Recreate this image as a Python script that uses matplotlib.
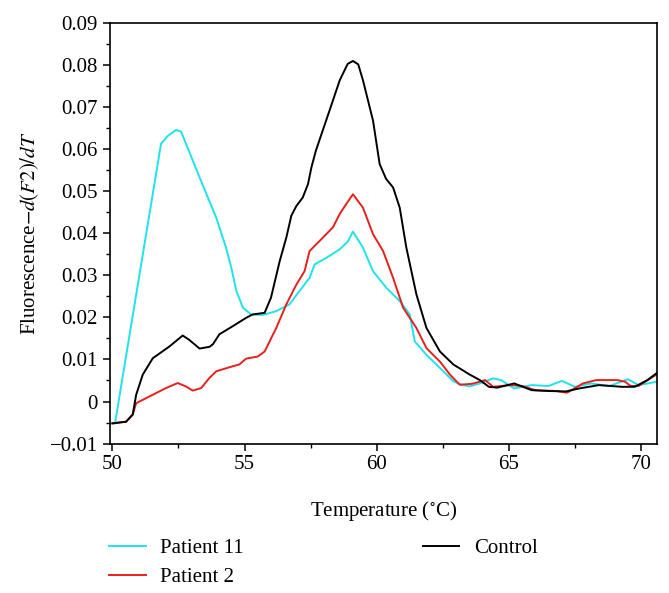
import matplotlib
matplotlib.use('Agg')
import matplotlib.pyplot as plt
from matplotlib.ticker import MultipleLocator

plt.rcParams['font.family'] = ['Liberation Serif', 'DejaVu Serif']
plt.rcParams['mathtext.fontset'] = 'stix'

# Patient 11 (cyan)
t_p11 = [50.1, 51.84, 52.1, 52.41, 52.6, 53.3, 53.93, 54.3, 54.5, 54.69,
         54.94, 55.25, 55.7, 56.2, 56.7, 57.08, 57.46, 57.65, 58.1, 58.6,
         58.9, 59.1, 59.48, 59.86, 60.37, 60.87, 61.25, 61.44, 61.88, 62.39,
         62.9, 63.2, 63.52, 63.9, 64.4, 64.7, 65.2, 65.86, 66.5, 67.0,
         67.5, 68.1, 68.8, 69.5, 69.9, 70.6]
y_p11 = [-0.0052, 0.0613, 0.0632, 0.0646, 0.0642, 0.0533, 0.0437, 0.0366, 0.0318, 0.0263,
         0.0223, 0.0207, 0.0206, 0.0215, 0.0231, 0.0263, 0.0294, 0.0326, 0.0342, 0.0362,
         0.0380, 0.0404, 0.0366, 0.0310, 0.0270, 0.0239, 0.0207, 0.0143, 0.0111, 0.0080,
         0.0048, 0.0040, 0.0036, 0.0043, 0.0055, 0.0051, 0.0031, 0.0039, 0.0037, 0.0049,
         0.0035, 0.0043, 0.0037, 0.0053, 0.0039, 0.0047]

# Patient 2 (red)
t_p2 = [50.0, 50.52, 50.77, 50.9, 51.4, 52.03, 52.47, 52.78, 53.04, 53.36,
        53.67, 53.93, 54.56, 54.8, 55.06, 55.5, 55.76, 56.2, 56.58, 56.96,
        57.27, 57.46, 57.84, 58.34, 58.6, 58.85, 59.1, 59.48, 59.86, 60.24,
        60.62, 61.0, 61.5, 61.88, 62.39, 62.77, 63.14, 63.6, 64.1, 64.4,
        65.05, 65.5, 66.0, 66.8, 67.2, 67.8, 68.3, 69.1, 69.4, 69.6,
        69.9, 70.6]
y_p2 = [-0.0052, -0.0048, -0.0031, -0.0004, 0.0012, 0.0032, 0.0044, 0.0036, 0.0026, 0.0032,
        0.0056, 0.0072, 0.0084, 0.0088, 0.0102, 0.0107, 0.0119, 0.0175, 0.0231, 0.0278,
        0.0310, 0.0358, 0.0382, 0.0414, 0.0446, 0.0470, 0.0493, 0.0461, 0.0398, 0.0358,
        0.0294, 0.0223, 0.0175, 0.0127, 0.0095, 0.0064, 0.0040, 0.0042, 0.0051, 0.0035,
        0.0039, 0.0037, 0.0027, 0.0025, 0.0021, 0.0043, 0.0051, 0.0051, 0.0047, 0.0037,
        0.0037, 0.0065]

# Control (black)
t_ctrl = [50.0, 50.52, 50.77, 50.9, 51.15, 51.53, 52.16, 52.66, 52.9, 53.3,
          53.67, 53.8, 54.05, 54.55, 55.06, 55.3, 55.76, 56.0, 56.33, 56.58,
          56.77, 56.96, 57.2, 57.4, 57.53, 57.7, 58.23, 58.6, 58.9, 59.1,
          59.3, 59.48, 59.86, 60.11, 60.35, 60.62, 60.87, 61.12, 61.5, 61.88,
          62.39, 62.9, 63.52, 63.9, 64.24, 64.56, 65.2, 65.86, 66.5, 67.16,
          67.65, 68.4, 69.27, 69.76, 70.24, 70.6]
y_ctrl = [-0.0052, -0.0048, -0.0031, 0.0016, 0.0064, 0.0103, 0.0131, 0.0157, 0.0147, 0.0126,
          0.0130, 0.0136, 0.0160, 0.0179, 0.0199, 0.0207, 0.0211, 0.0247, 0.0334, 0.0390,
          0.0442, 0.0465, 0.0485, 0.0517, 0.0557, 0.0597, 0.0695, 0.0764, 0.0803, 0.0810,
          0.0802, 0.0764, 0.0668, 0.0565, 0.0530, 0.0509, 0.0461, 0.0366, 0.0255, 0.0175,
          0.0119, 0.0088, 0.0064, 0.0051, 0.0035, 0.0033, 0.0043, 0.0027, 0.0025, 0.0024,
          0.0031, 0.0039, 0.0035, 0.0035, 0.0051, 0.0068]

fig = plt.figure(figsize=(6.69, 5.93), dpi=100)
ax = fig.add_axes([0.164, 0.252, 0.818, 0.709])

l1, = ax.plot(t_p11, y_p11, color='#1ee3ee', lw=1.4)
l2, = ax.plot(t_p2, y_p2, color='#e8201c', lw=1.4)
l3, = ax.plot(t_ctrl, y_ctrl, color='black', lw=1.4)

ax.set_xlim(49.9, 70.6)
ax.set_ylim(-0.01, 0.09)
ax.xaxis.set_major_locator(MultipleLocator(5))
ax.xaxis.set_minor_locator(MultipleLocator(2.5))
ax.yaxis.set_minor_locator(MultipleLocator(0.005))
ax.set_yticks([-0.01, 0, 0.01, 0.02, 0.03, 0.04, 0.05, 0.06, 0.07, 0.08, 0.09])
ax.set_yticklabels(['\u22120.01', '0', '0.01', '0.02', '0.03', '0.04', '0.05',
                    '0.06', '0.07', '0.08', '0.09'])
ax.tick_params(which='major', direction='out', length=5, width=1.1, labelsize=15)
ax.tick_params(which='minor', direction='out', length=3, width=1.0)
for s in ax.spines.values():
    s.set_linewidth(1.2)

ax.set_xlabel('Temperature ($^{\\circ}$C)', fontsize=15, labelpad=18)
ax.set_ylabel('Fluorescence$-d(F2)/dT$', fontsize=15, labelpad=6)

fig.legend([l1, l2, l3], ['Patient 11', 'Patient 2', 'Control'], ncol=2,
           loc='upper left', bbox_to_anchor=(0.163, 0.092), frameon=False,
           fontsize=15, handlelength=1.75, handletextpad=0.7, columnspacing=8.6,
           labelspacing=0.45, borderpad=0, borderaxespad=0)

fig.savefig('out.png', dpi=100)
